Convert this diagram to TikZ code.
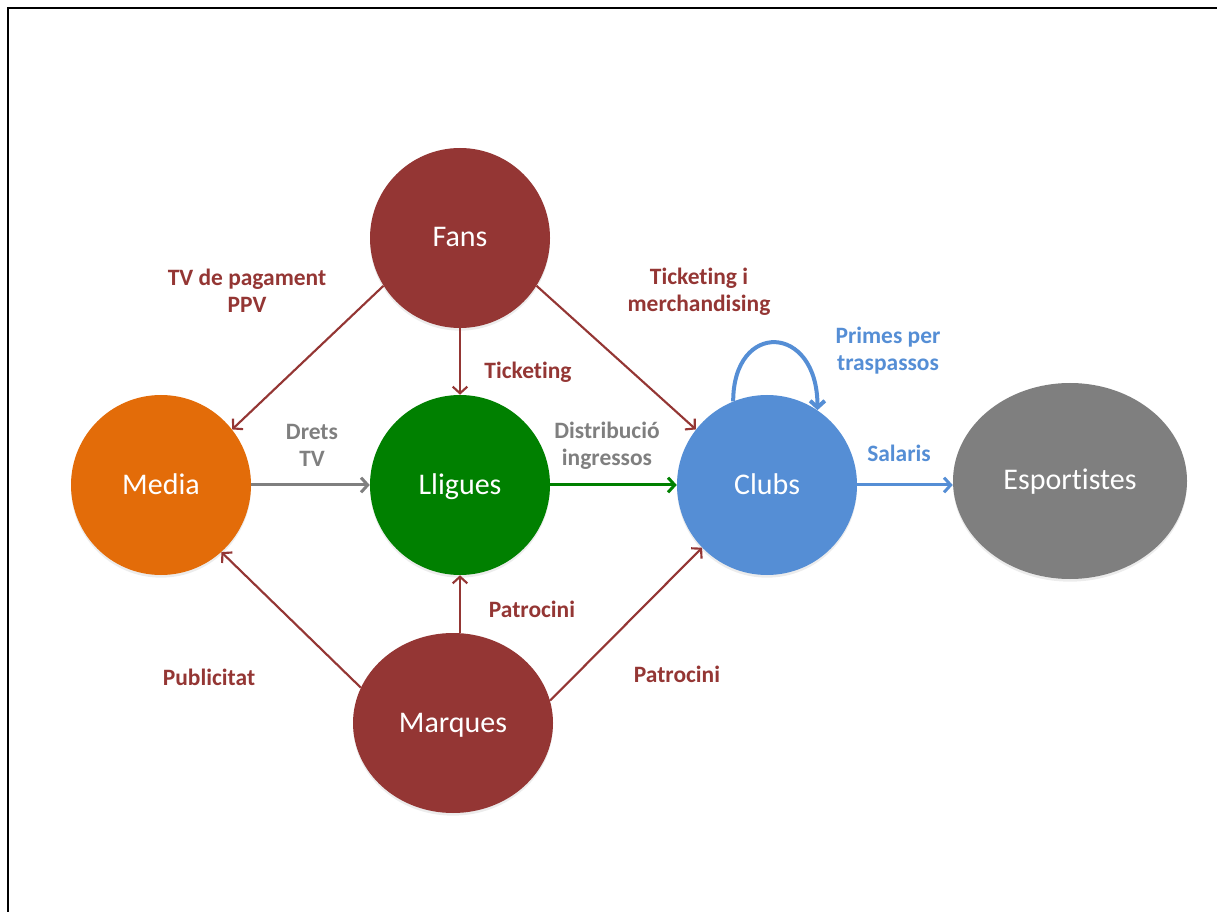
\documentclass[tikz,border=0pt]{standalone}
\usepackage{fontspec}
\setmainfont{Carlito}[Ligatures=NoCommon]
\usetikzlibrary{arrows.meta,shapes.geometric,shadows}
\definecolor{brandred}{HTML}{943634}
\definecolor{mediaorange}{HTML}{E36C09}
\definecolor{leaguegreen}{HTML}{008000}
\definecolor{clubblue}{HTML}{558ED5}
\definecolor{playergray}{HTML}{7F7F7F}
\tikzset{
    actor/.style = {circle, minimum size=135pt, inner sep=0pt, text=white,
        font=\fontsize{22.5}{27}\selectfont, text height=17pt, text depth=3.5pt,
        drop shadow={opacity=0.15, shadow xshift=0pt, shadow yshift=-2pt}},
    flow/.style = {line width=1.6pt, -{Straight Barb[length=5pt, width=11pt]}},
    flowlabel/.style = {font=\bfseries\fontsize{17.6}{20.25}\selectfont, align=center, inner sep=0pt}
}
\begin{document}
\begin{tikzpicture}[x=0.75pt, y=-0.75pt]
            \useasboundingbox (0,0) rectangle (1217,912);
            \draw[line width=1.8pt] (8,912) -- (8,8) -- (1217,8);
            \node[actor, fill=brandred] (fans) at (460,238) {Fans};
            \node[actor, fill=mediaorange] (media) at (161,485) {Media};
            \node[actor, fill=leaguegreen] (lligues) at (460,485) {Lligues};
            \node[actor, fill=clubblue] (clubs) at (767,485) {Clubs};
            \node[actor, ellipse, fill=playergray, minimum width=175.5pt, minimum height=147pt] (esportistes) at (1070,481) {Esportistes};
            \node[actor, ellipse, fill=brandred, minimum width=150pt, minimum height=135pt] (marques) at (453,723) {Marques};
            \foreach\a/\b in {fans.212/media.38, fans/lligues, fans.328/clubs.142, marques.159/media.312, marques.13/clubs.224}
                {\draw[flow, brandred] (\a) -- (\b);};
            \draw[flow, brandred] (lligues |- marques.north) -- (lligues.south);
            \draw[flow, playergray, line width=2.25pt] (media) -- (lligues);
            \draw[flow, leaguegreen, line width=2.25pt] (lligues) -- (clubs);
            \draw[flow, clubblue, line width=2.25pt] (clubs) -- (esportistes.west |- clubs);
            \draw[flow, clubblue, line width=3pt] (clubs.112) .. controls +(0,-81) and +(0,-87) .. (clubs.56);
            \node[flowlabel, text=brandred] (paytv) at (247,291) {TV de pagament\\PPV};
            \node[flowlabel, text=brandred] (ticketing) at (528,372) {Ticketing};
            \node[flowlabel, text=brandred] (merch) at (699,292) {Ticketing i\\merchandising};
            \node[flowlabel, text=clubblue] (transfers) at (888,351) {Primes per\\traspassos};
            \node[flowlabel, text=playergray] (tvrights) at (312,445) {Drets\\TV};
            \node[flowlabel, text=playergray] (revenue) at (607,446) {Distribució\\ingressos};
            \node[flowlabel, text=clubblue] (wages) at (899,453) {Salaris};
            \node[flowlabel, text=brandred] (sponsorleague) at (532,609) {Patrocini};
            \node[flowlabel, text=brandred] (advertising) at (209,677) {Publicitat};
            \node[flowlabel, text=brandred] (sponsorclub) at (677,674) {Patrocini};
        \end{tikzpicture}
\end{document}
